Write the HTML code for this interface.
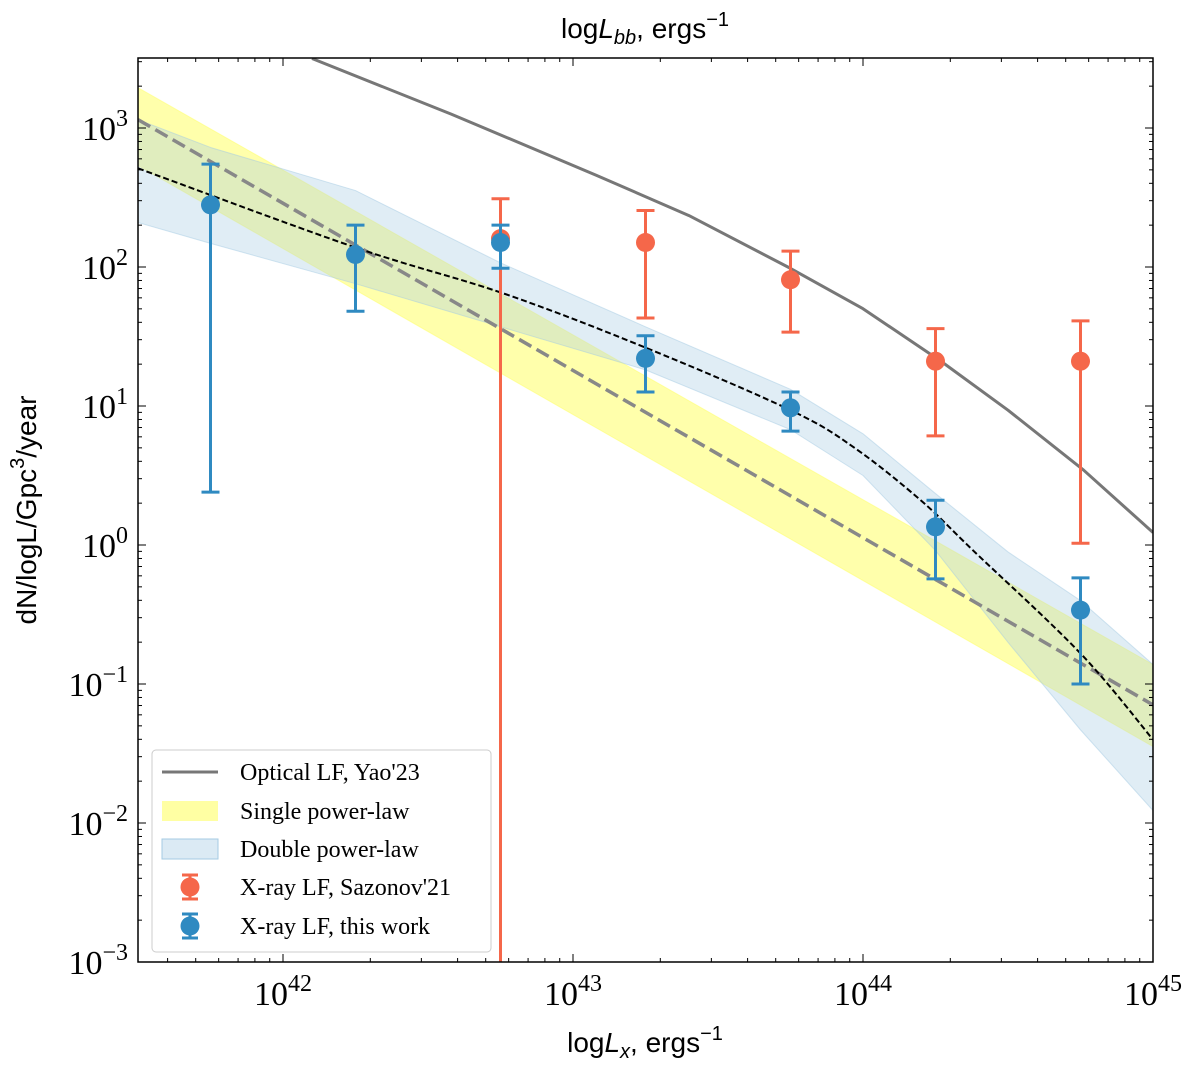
<!DOCTYPE html>
<html><head><meta charset="utf-8"><style>
body{margin:0;background:#fff;}
svg text{font-family:"Liberation Serif",serif;}
</style></head><body>
<svg id="chart" width="1200" height="1070" xmlns="http://www.w3.org/2000/svg">
<g id="plot"></g>
</svg>
<script>
const xTicks=[42,43,44,45];
const yTicks=[-3,-2,-1,0,1,2,3];
const blueX=[41.75,42.25,42.75,43.25,43.75,44.25,44.75];
const blueY=[280,123,150,22,9.7,1.35,0.34];
const blueHi=[550,200,200,32,12.6,2.1,0.58];
const blueLo=[2.4,48,98,12.6,6.6,0.57,0.1];
const redX=[42.75,43.25,43.75,44.25,44.75];
const redY=[160,150,81,21,21];
const redHi=[310,255,130,36,41];
const redLo=[0.0001,43,34,6.1,1.03];
const optX=[42.1,42.58,43.08,43.4,43.75,44,44.27,44.5,44.76,45];
const optY=[3.5,3.1,2.66,2.37,1.99,1.70,1.32,0.97,0.54,0.09];
const splX=[41.5,45];
const splY=[3.06,-1.15];
const splUp=[3.29,-0.86];
const splLo=[2.73,-1.45];
const dplX=[41.5,42.25,42.76,43.25,43.75,43.97,44.2,44.38,44.75,45];
const dplY=[2.71,2.14,1.81,1.42,0.97,0.70,0.32,-0.04,-0.78,-1.40];
const dbX=[41.5,41.75,42.25,42.75,43.25,43.75,44,44.25,44.5,44.75,45];
const dplUp=[3.06,2.86,2.55,2.03,1.57,1.12,0.8,0.37,-0.05,-0.4,-0.86];
const dplLo=[2.32,2.17,1.88,1.57,1.26,0.83,0.5,-0.04,-0.7,-1.33,-1.91];

const L=138,R=1153,T=58,B=962;
const X=v=>L+(v-41.5)*(R-L)/3.5;
const Y=v=>128+(3-v)*139;
const Yl=v=>Math.min(B,Y(Math.log10(v)));
const ns="http://www.w3.org/2000/svg";
const g=document.getElementById('plot');
function mk(t,a,p){const e=document.createElementNS(ns,t);for(const k in a)e.setAttribute(k,a[k]);(p||g).appendChild(e);return e;}
const clip=mk('clipPath',{id:'c'});mk('rect',{x:L,y:T,width:R-L,height:B-T},clip);
const area=mk('g',{'clip-path':'url(#c)'});
function sm(pts){let d='M'+pts[0][0]+','+pts[0][1];for(let i=0;i<pts.length-1;i++){const p0=pts[Math.max(0,i-1)],p1=pts[i],p2=pts[i+1],p3=pts[Math.min(pts.length-1,i+2)];
d+='C'+(p1[0]+(p2[0]-p0[0])/6)+','+(p1[1]+(p2[1]-p0[1])/6)+' '+(p2[0]-(p3[0]-p1[0])/6)+','+(p2[1]-(p3[1]-p1[1])/6)+' '+p2[0]+','+p2[1];}return d;}
function lin(pts){return 'M'+pts.map(p=>p[0]+','+p[1]).join('L');}
function band(xs,up,lo,fill,op,name){const a=xs.map((x,i)=>[X(x),Y(up[i])]);const b=xs.map((x,i)=>[X(x),Y(lo[i])]).reverse();
let d=lin(a)+'L'+lin(b).slice(1)+'Z';
const e=mk('path',{d:d,fill:fill,'fill-opacity':op,stroke:fill,'stroke-opacity':0.5,'stroke-linejoin':'round'},area);

}
band(splX,splUp,splLo,'#ffff66',0.55,'single-power-law-band');
band(dbX,dplUp,dplLo,'#a6cbe3',0.35,'double-power-law-band');
function line(xs,ys,st,w,da,name,smooth){const pts=xs.map((x,i)=>[X(x),Y(ys[i])]);const e=mk('path',{d:smooth?sm(pts):lin(pts),fill:'none',stroke:st,'stroke-width':w,'stroke-dasharray':da||'','stroke-linejoin':'round'},area);

}
line(optX,optY,'#777',3,'','optical-lf-line',false);
line(splX,splY,'#888',3.5,'14 6','single-power-law-line',false);
line(dplX,dplY,'#000',2,'6 3','double-power-law-line',true);
function errs(xs,ys,hi,lo,c,name){xs.forEach((x,i)=>{const px=X(x);
const e=mk('g',{},area);


mk('line',{x1:px,x2:px,y1:Yl(hi[i]),y2:Yl(lo[i]),stroke:c,'stroke-width':3},e);
mk('line',{x1:px-9,x2:px+9,y1:Yl(hi[i]),y2:Yl(hi[i]),stroke:c,'stroke-width':3},e);
if(Yl(lo[i])<B)mk('line',{x1:px-9,x2:px+9,y1:Yl(lo[i]),y2:Yl(lo[i]),stroke:c,'stroke-width':3},e);
mk('circle',{cx:px,cy:Yl(ys[i]),r:9.5,fill:c},e);});}
errs(redX,redY,redHi,redLo,'#f5674a','red');
errs(blueX,blueY,blueHi,blueLo,'#2f8ac1','blue');
mk('rect',{x:L,y:T,width:R-L,height:B-T,fill:'none',stroke:'#000','stroke-width':1.5});
xTicks.forEach(v=>{const px=X(v);mk('line',{x1:px,x2:px,y1:B,y2:B-8,stroke:'#000'});mk('line',{x1:px,x2:px,y1:T,y2:T+8,stroke:'#000'});
const t=mk('text',{x:px,y:B+43,'text-anchor':'middle','font-size':34});t.innerHTML='10<tspan dy="-14" font-size="24">'+v+'</tspan>';

});
for(let d=41;d<45;d++)for(let k=2;k<10;k++){const v=d+Math.log10(k);if(v<41.5)continue;const px=X(v);mk('line',{x1:px,x2:px,y1:B,y2:B-4,stroke:'#000'});mk('line',{x1:px,x2:px,y1:T,y2:T+4,stroke:'#000'});}
yTicks.forEach(v=>{const py=Y(v);mk('line',{x1:L,x2:L+8,y1:py,y2:py,stroke:'#000'});mk('line',{x1:R,x2:R-8,y1:py,y2:py,stroke:'#000'});
const t=mk('text',{x:L-10,y:py+12,'text-anchor':'end','font-size':34});t.innerHTML='10<tspan dy="-14" font-size="24">'+(v<0?'−'+(-v):v)+'</tspan>';

});
for(let d=-3;d<4;d++)for(let k=2;k<10;k++){const v=d+Math.log10(k);if(v>3.5)continue;const py=Y(v);mk('line',{x1:L,x2:L+4,y1:py,y2:py,stroke:'#000'});mk('line',{x1:R,x2:R-4,y1:py,y2:py,stroke:'#000'});}
</script>
<svg style="position:absolute;left:0;top:0" width="1200" height="1070" xmlns="http://www.w3.org/2000/svg">
<text x="645" y="38" text-anchor="middle" font-size="28" style="font-family:'Liberation Sans',sans-serif">log<tspan font-style="italic">L</tspan><tspan font-style="italic" font-size="20" dy="6">bb</tspan><tspan dy="-6">, ergs</tspan><tspan font-size="20" dy="-12">−1</tspan></text>
<text x="645" y="1052" text-anchor="middle" font-size="28" style="font-family:'Liberation Sans',sans-serif">log<tspan font-style="italic">L</tspan><tspan font-style="italic" font-size="20" dy="6">x</tspan><tspan dy="-6">, ergs</tspan><tspan font-size="20" dy="-12">−1</tspan></text>
<text transform="translate(36,510) rotate(-90)" text-anchor="middle" font-size="28" style="font-family:'Liberation Sans',sans-serif">dN/logL/Gpc<tspan font-size="20" dy="-12">3</tspan><tspan dy="12">/year</tspan></text>
<g style="font-family:'Liberation Serif',serif" font-size="24">
<rect x="152" y="750" width="339" height="202" rx="4" fill="#fff" fill-opacity="0.85" stroke="#ccc"/>
<line x1="162" x2="218" y1="772" y2="772" stroke="#777" stroke-width="3"/><text x="240" y="780">Optical LF, Yao'23</text>
<rect x="162" y="801" width="56" height="20" fill="#ffff66" fill-opacity="0.6"/><text x="240" y="819">Single power-law</text>
<rect x="162" y="839" width="56" height="20" fill="#a6cbe3" fill-opacity="0.4" stroke="#a6cbe3"/><text x="240" y="857">Double power-law</text>
<line x1="190" x2="190" y1="875" y2="899" stroke="#f5674a" stroke-width="3"/><line x1="182" x2="198" y1="875" y2="875" stroke="#f5674a" stroke-width="3"/><line x1="182" x2="198" y1="899" y2="899" stroke="#f5674a" stroke-width="3"/><circle cx="190" cy="887" r="9.5" fill="#f5674a"/><text x="240" y="895">X-ray LF, Sazonov'21</text>
<line x1="190" x2="190" y1="914" y2="938" stroke="#2f8ac1" stroke-width="3"/><line x1="182" x2="198" y1="914" y2="914" stroke="#2f8ac1" stroke-width="3"/><line x1="182" x2="198" y1="938" y2="938" stroke="#2f8ac1" stroke-width="3"/><circle cx="190" cy="926" r="9.5" fill="#2f8ac1"/><text x="240" y="934">X-ray LF, this work</text>
</g>
</svg>
</body></html>
